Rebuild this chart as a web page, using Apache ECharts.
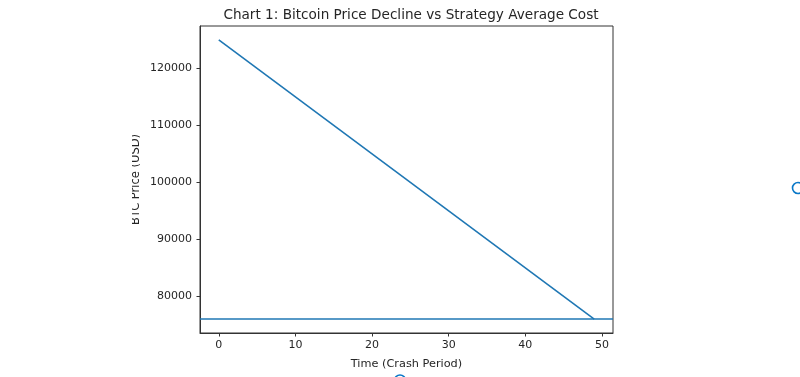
<!DOCTYPE html>
<html>
<head>
<meta charset="utf-8">
<script src="https://cdn.jsdelivr.net/npm/echarts@6/dist/echarts.min.js"></script>
<style>html,body{margin:0;padding:0;background:#fff}#c{width:800px;height:377px}</style>
</head>
<body>
<div id="c"></div>
<script>
const titleText = 'Chart 1: Bitcoin Price Decline vs Strategy Average Cost';
const xLabel = 'Time (Crash Period)';
const yLabel = 'BTC Price (USD)';
const timePoints = [0, 49];
const btcPrice = [125000, 76000];
const strategyAvgCost = 76100;

const FONT = 'DejaVu Sans';
const blue = '#1f77b4';
const txt = '#262626';
const chart = echarts.init(document.getElementById('c'), null, {renderer: 'canvas'});
chart.setOption({
  animation: false,
  backgroundColor: '#fff',
  title: {
    text: titleText, left: 406, top: 3, textAlign: 'center',
    textStyle: {fontFamily: FONT, fontSize: 13.6, fontWeight: 'normal', color: txt}
  },
  grid: {left: 200, right: 187, top: 26, bottom: 44, show: true, borderColor: '#333', borderWidth: 1, backgroundColor: 'transparent'},
  xAxis: {
    type: 'value', min: -2.45, max: 51.45, splitNumber: 5,
    name: xLabel, nameLocation: 'middle', nameGap: 26,
    nameTextStyle: {fontFamily: FONT, fontSize: 11.3, color: txt},
    axisLine: {show: true, onZero: false, lineStyle: {color: '#333'}},
    axisTick: {show: true, length: 3.5, lineStyle: {color: '#333'}},
    axisLabel: {showMinLabel: false, showMaxLabel: false, fontFamily: FONT, fontSize: 11, color: txt, margin: 7},
    splitLine: {show: false}
  },
  yAxis: {
    type: 'value', min: 73550, max: 127450, splitNumber: 5,
    name: yLabel, nameLocation: 'middle', nameGap: 58, nameRotate: 90, nameMoveOverlap: false,
    nameTextStyle: {fontFamily: FONT, fontSize: 11.5, color: txt},
    axisLine: {show: true, onZero: false, lineStyle: {color: '#333'}},
    axisTick: {show: true, length: 3.5, lineStyle: {color: '#333'}},
    axisLabel: {showMinLabel: false, showMaxLabel: false, formatter: v => String(v), fontFamily: FONT, fontSize: 11, color: txt, margin: 8},
    splitLine: {show: false}
  },
  series: [{
    type: 'line',
    data: timePoints.map((t, i) => [t, btcPrice[i]]),
    showSymbol: false,
    lineStyle: {color: blue, width: 1.6},
    markLine: {
      silent: true, symbol: 'none', label: {show: false},
      lineStyle: {color: blue, width: 1.6, type: 'solid'},
      data: [{yAxis: strategyAvgCost}]
    }
  }],
  graphic: [
    {type: 'rect', left: 0, top: 125, shape: {width: 132, height: 115}, style: {fill: '#fff'}, z: 100},
    {type: 'circle', shape: {cx: 798, cy: 188, r: 5.5}, style: {fill: 'none', stroke: '#0a78c8', lineWidth: 1.6}, z: 100},
    {type: 'circle', shape: {cx: 400, cy: 380.5, r: 5.5}, style: {fill: 'none', stroke: '#0a78c8', lineWidth: 1.6}, z: 100}
  ]
});
</script>
</body>
</html>
